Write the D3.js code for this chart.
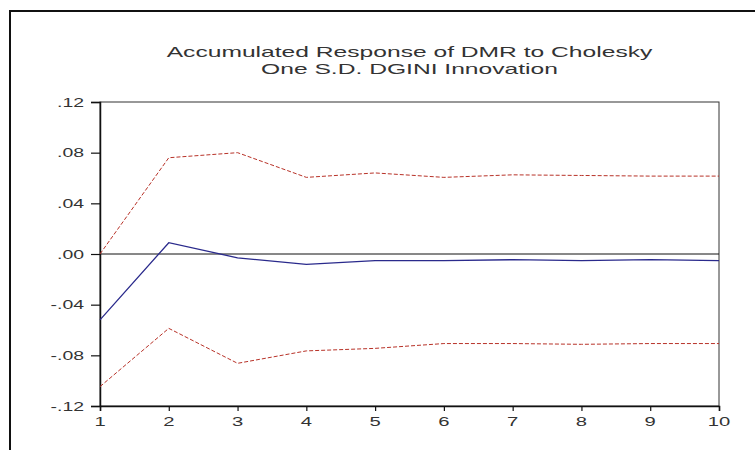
<!DOCTYPE html>
<html>
<head>
<meta charset="utf-8">
<script src="https://cdn.jsdelivr.net/npm/d3@7"></script>
<style>
  body { margin: 0; background: #fff; }
  text { font-family: Arial, "Liberation Sans", sans-serif; fill: #333; }
</style>
</head>
<body>
<svg id="chart" width="755" height="450"></svg>
<script>
// accumulated response, periods 1..10
let periods = [1, 2, 3, 4, 5, 6, 7, 8, 9, 10];
let response = [-0.052, 0.0089, -0.003, -0.0082, -0.0053, -0.0053, -0.0045, -0.0053, -0.0045, -0.0053];
let upperBand = [0.000, 0.076, 0.080, 0.0605, 0.064, 0.0605, 0.0625, 0.062, 0.0615, 0.0615];
let lowerBand = [-0.1047, -0.0587, -0.0863, -0.0765, -0.0745, -0.0707, -0.0707, -0.0713, -0.0707, -0.0707];
let yTicks = [0.12, 0.08, 0.04, 0.00, -0.04, -0.08, -0.12];
let titleLines = ["Accumulated Response of DMR to Cholesky", "One S.D. DGINI Innovation"];

let svg = d3.select("#chart");
let margin = {left: 100, top: 102, right: 36, bottom: 44};
let width = 755 - margin.left - margin.right,
    height = 450 - margin.top - margin.bottom;

// the picture is stretched sideways, so is the text
let sx = 1.62;

function stretchedText(parent, x, y, txt, anchor, size) {
    return parent.append("text")
        .attr("transform", "translate(" + x + "," + y + ") scale(" + sx + ",1)")
        .attr("text-anchor", anchor)
        .attr("font-size", size)
        .text(txt);
}

// outer frame (cut off at right and bottom)
svg.append("rect")
    .attr("x", 10).attr("y", 11)
    .attr("width", 800).attr("height", 500)
    .attr("fill", "none")
    .attr("stroke", "#111")
    .attr("stroke-width", 2);

let x = d3.scaleLinear().domain([1, 10]).range([0, width]);
let y = d3.scaleLinear().domain([-0.12, 0.12]).range([height, 0]);

let g = svg.append("g").attr("transform", "translate(" + margin.left + "," + margin.top + ")");

// title
titleLines.forEach((t, i) => {
    stretchedText(svg, margin.left + width / 2, 57 + i * 17, t, "middle", 15.2);
});

// plot box
g.append("rect")
    .attr("width", width).attr("height", height)
    .attr("fill", "none")
    .attr("stroke", "#333")
    .attr("stroke-width", 1);

// zero line
g.append("line")
    .attr("x1", 0).attr("x2", width)
    .attr("y1", y(0)).attr("y2", y(0))
    .attr("stroke", "#111");

// axes
let yAxis = d3.axisLeft(y).tickValues(yTicks).tickSize(9).tickFormat(() => "");
let yg = g.append("g").call(yAxis);
let xAxis = d3.axisBottom(x).tickValues(periods).tickSize(5).tickFormat(() => "");
let xg = g.append("g").attr("transform", "translate(0," + height + ")").call(xAxis);
[yg, xg].forEach(a => {
    a.select(".domain").attr("stroke", "#111").attr("stroke-width", 1.5);
    a.selectAll(".tick line").attr("stroke", "#111").attr("stroke-width", 1.2);
});

let fmt = v => {
    let s = d3.format(".2f")(Math.abs(v)).replace(/^0/, "");
    return (v < 0 ? "-" : "") + s;
};
yTicks.forEach(v => {
    stretchedText(g, -16, y(v) + 4.5, fmt(v), "end", 12);
});
periods.forEach(p => {
    stretchedText(g, x(p), height + 20, p, "middle", 12.5);
});

// lines
let line = d3.line()
    .x((d, i) => x(periods[i]))
    .y(d => y(d));

g.append("path").datum(upperBand)
    .attr("d", line)
    .attr("fill", "none")
    .attr("stroke", "#b83228")
    .attr("stroke-width", 1)
    .attr("stroke-dasharray", "4,2");

g.append("path").datum(lowerBand)
    .attr("d", line)
    .attr("fill", "none")
    .attr("stroke", "#b83228")
    .attr("stroke-width", 1)
    .attr("stroke-dasharray", "4,2");

g.append("path").datum(response)
    .attr("d", line)
    .attr("fill", "none")
    .attr("stroke", "#2a2a8c")
    .attr("stroke-width", 1.3);
</script>
</body>
</html>
